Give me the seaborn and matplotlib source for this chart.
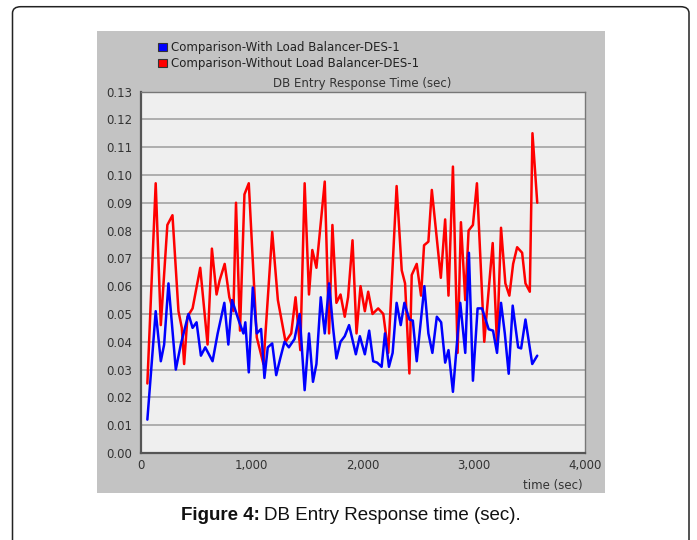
import pandas as pd
import matplotlib
matplotlib.use("Agg")
import matplotlib.pyplot as plt
import seaborn as sns
from matplotlib.patches import Rectangle, FancyBboxPatch, Patch

# data (time in sec, response time in sec)
t_with = [60, 135, 181, 211, 250, 316, 361, 430, 467, 503, 542, 581, 647, 693, 753, 789,
          822, 888, 925, 942, 973, 1009, 1045, 1084, 1114, 1144, 1184, 1220, 1256, 1295,
          1334, 1385, 1431, 1476, 1515, 1551, 1582, 1621, 1657, 1696, 1732, 1762, 1799,
          1837, 1876, 1937, 1973, 2018, 2057, 2093, 2129, 2169, 2199, 2235, 2268, 2304,
          2341, 2374, 2419, 2450, 2485, 2554, 2590, 2626, 2666, 2705, 2741, 2771, 2811,
          2877, 2922, 2955, 2991, 3033, 3073, 3133, 3172, 3208, 3244, 3278, 3313, 3349,
          3398, 3425, 3464, 3525, 3570]
rt_with = [0.012, 0.051, 0.033, 0.039, 0.061, 0.030, 0.039, 0.050, 0.045, 0.047, 0.035,
           0.038, 0.033, 0.043, 0.054, 0.039, 0.055, 0.047, 0.043, 0.047, 0.029, 0.0595,
           0.043, 0.0446, 0.027, 0.038, 0.0394, 0.028, 0.034, 0.040, 0.038, 0.041, 0.050,
           0.0226, 0.043, 0.0256, 0.032, 0.056, 0.043, 0.061, 0.045, 0.034, 0.040, 0.042,
           0.046, 0.0355, 0.042, 0.0355, 0.044, 0.033, 0.0325, 0.031, 0.043, 0.031, 0.036,
           0.054, 0.046, 0.054, 0.048, 0.0476, 0.033, 0.060, 0.043, 0.036, 0.049, 0.047,
           0.0325, 0.037, 0.022, 0.054, 0.036, 0.072, 0.026, 0.052, 0.052, 0.0445, 0.044,
           0.036, 0.054, 0.043, 0.0285, 0.053, 0.038, 0.0376, 0.048, 0.032, 0.035]

t_without = [60, 135, 181, 240, 286, 340, 370, 391, 421, 467, 536, 602, 641, 683, 710,
             756, 798, 835, 858, 894, 934, 973, 1045, 1105, 1184, 1235, 1304, 1355, 1394,
             1437, 1476, 1515, 1545, 1582, 1657, 1696, 1726, 1762, 1799, 1837, 1867, 1907,
             1943, 1979, 2018, 2048, 2087, 2138, 2184, 2229, 2304, 2350, 2380, 2419, 2440,
             2485, 2524, 2551, 2590, 2621, 2702, 2741, 2771, 2811, 2853, 2883, 2922, 2952,
             2991, 3027, 3093, 3169, 3208, 3244, 3283, 3319, 3353, 3389, 3434, 3464, 3503,
             3527, 3570]
rt_without = [0.025, 0.097, 0.046, 0.082, 0.0855, 0.051, 0.045, 0.032, 0.049, 0.052,
              0.0666, 0.039, 0.0735, 0.057, 0.062, 0.068, 0.056, 0.051, 0.090, 0.044,
              0.093, 0.097, 0.0416, 0.032, 0.0795, 0.055, 0.040, 0.043, 0.056, 0.037,
              0.097, 0.057, 0.073, 0.0666, 0.0976, 0.043, 0.082, 0.054, 0.057, 0.049,
              0.056, 0.0765, 0.043, 0.060, 0.051, 0.058, 0.050, 0.052, 0.050, 0.036,
              0.096, 0.0657, 0.061, 0.0286, 0.064, 0.068, 0.0566, 0.0747, 0.076, 0.0946,
              0.063, 0.084, 0.0566, 0.103, 0.036, 0.083, 0.055, 0.080, 0.082, 0.097,
              0.040, 0.0755, 0.039, 0.081, 0.061, 0.0566, 0.068, 0.074, 0.072, 0.061,
              0.058, 0.115, 0.090]

series_labels = ["Comparison-With Load Balancer-DES-1",
                 "Comparison-Without Load Balancer-DES-1"]
x_ticks = [0, 1000, 2000, 3000, 4000]
x_tick_labels = ["0", "1,000", "2,000", "3,000", "4,000"]
y_ticks = [i / 100 for i in range(14)]

df = pd.concat([
    pd.DataFrame({"time": t_with, "rt": rt_with, "series": series_labels[0]}),
    pd.DataFrame({"time": t_without, "rt": rt_without, "series": series_labels[1]}),
])

sns.set_style("white")
plt.rcParams["font.family"] = ["DejaVu Sans"]
CHART_FS = 8.5
TXT = "#333333"

W, H = 697, 540
fig = plt.figure(figsize=(W / 100, H / 100), dpi=100)
fig.patch.set_facecolor("white")

# outer card border and grey chart panel
fig.patches.append(FancyBboxPatch((12.5 / W, -0.05), (689 - 12.5) / W, 1 - 6.7 / H + 0.05,
                                  boxstyle="round,pad=0,rounding_size=0.012",
                                  transform=fig.transFigure, facecolor="none",
                                  edgecolor="#222222", lw=1.1, zorder=-2))
fig.patches.append(Rectangle((97 / W, 1 - 493 / H), (605 - 97) / W, (493 - 31) / H,
                             transform=fig.transFigure, facecolor="#c3c3c3",
                             edgecolor="none", zorder=-1))

ax = fig.add_axes([140.7 / W, 1 - 453 / H, (585 - 140.7) / W, (453 - 91.5) / H])
ax.set_zorder(1)
ax.set_facecolor("#efefef")

sns.lineplot(data=df, x="time", y="rt", hue="series",
             palette={series_labels[0]: "#0000ff", series_labels[1]: "#ff0000"},
             hue_order=[series_labels[1], series_labels[0]],
             sort=False, estimator=None, lw=1.8, legend=False, ax=ax)

ax.set_xlim(0, 4000)
ax.set_ylim(0, 0.13)
ax.set_xticks(x_ticks)
ax.set_xticklabels(x_tick_labels)
ax.set_yticks(y_ticks)
ax.set_yticklabels([f"{v:.2f}" for v in y_ticks])
ax.yaxis.grid(True, color="#a9a9a9", lw=1.3)
ax.set_axisbelow(True)
ax.set_xlabel("")
ax.set_ylabel("")
ax.tick_params(axis="both", labelsize=CHART_FS, labelcolor=TXT, color="#555555",
               width=1.0)
ax.tick_params(axis="y", direction="out", length=4, pad=2)
ax.tick_params(axis="x", direction="inout", length=5, pad=2)
for side in ["left", "bottom"]:
    ax.spines[side].set_color("#555555")
    ax.spines[side].set_linewidth(1.6)
for side in ["top", "right"]:
    ax.spines[side].set_color("#777777")
    ax.spines[side].set_linewidth(1.0)

fig.text(362 / W, 1 - 83 / H, "DB Entry Response Time (sec)", ha="center", va="center",
         fontsize=CHART_FS, color=TXT)
fig.text(583 / W, 1 - 485 / H, "time (sec)", ha="right", va="center",
         fontsize=CHART_FS, color=TXT)

handles = [Patch(facecolor="#0000ff", edgecolor="#333333", lw=0.8),
           Patch(facecolor="#ff0000", edgecolor="#333333", lw=0.8)]
fig.legend(handles=handles, labels=series_labels, loc="upper left",
           bbox_to_anchor=(152 / W, 1 - 35 / H), frameon=False, fontsize=CHART_FS,
           handlelength=0.75, handleheight=0.65, handletextpad=0.35,
           labelspacing=0.3, borderpad=0, labelcolor="#222222")

# caption: bold "Figure 4:" followed by regular text
cap_y = 1 - 516 / H
bold = fig.text(181 / W, cap_y, "Figure 4:", ha="left", va="center", fontsize=13.5,
                fontweight="bold", family="Liberation Sans", color="#111111")
fig.canvas.draw()
bb = bold.get_window_extent()
fig.text((bb.x1 + 4) / W, cap_y, "DB Entry Response time (sec).", ha="left",
         va="center", fontsize=13.5, family="Liberation Sans", color="#111111")

fig.savefig("out.png", dpi=100)
